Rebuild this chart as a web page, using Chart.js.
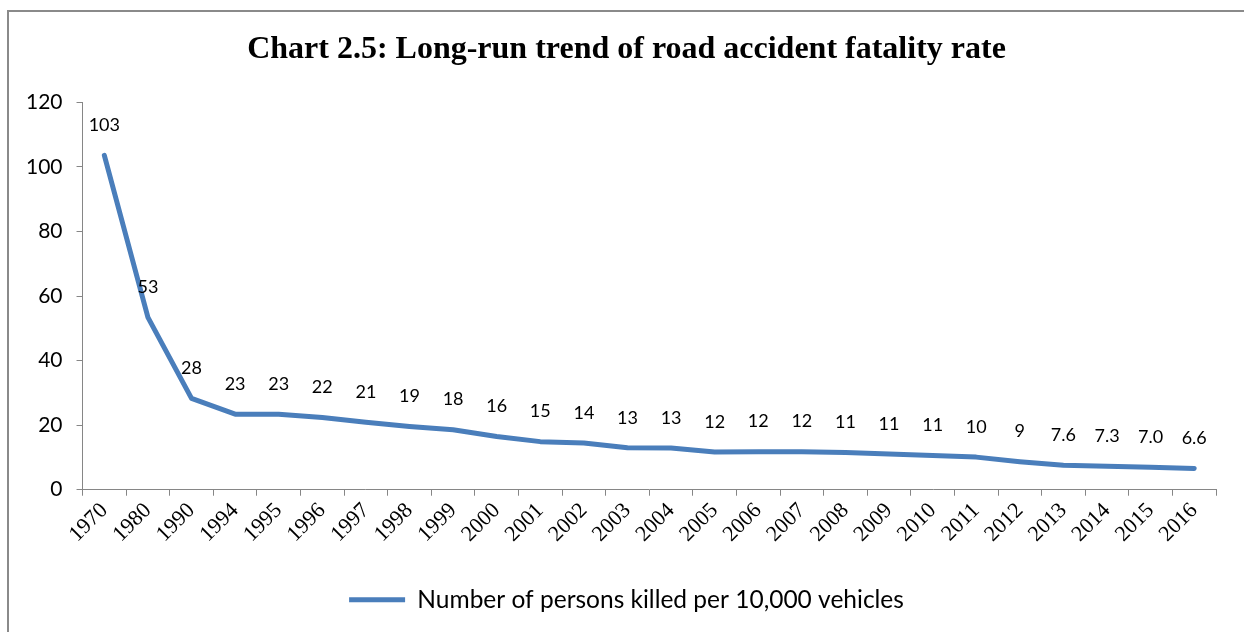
<!DOCTYPE html>
<html>
<head>
<meta charset="utf-8">
<script src="https://cdn.jsdelivr.net/npm/chart.js@4"></script>
<style>
  html, body { margin: 0; padding: 0; background: #fff; overflow: hidden; }
  #frame { position: absolute; left: 7px; top: 10px; width: 1300px; height: 700px; border: 2px solid #8a8a8a; }
  #wrap { position: absolute; left: 0; top: 0; width: 1244px; height: 632px; }
</style>
</head>
<body>
<div id="frame"></div>
<div id="wrap"><canvas id="fatalityChart"></canvas></div>
<script>
const years = ['1970', '1980', '1990', '1994', '1995', '1996', '1997', '1998', '1999', '2000',
  '2001', '2002', '2003', '2004', '2005', '2006', '2007', '2008', '2009', '2010',
  '2011', '2012', '2013', '2014', '2015', '2016']
const killedPer10k = [103.6, 53.4, 28.3, 23.4, 23.4, 22.4, 20.9, 19.6, 18.6, 16.5,
  14.9, 14.5, 13.0, 12.9, 11.7, 11.8, 11.8, 11.5, 11.1, 10.6,
  10.1, 8.7, 7.6, 7.3, 7.0, 6.6]
const pointLabels = ['103', '53', '28', '23', '23', '22', '21', '19', '18', '16',
  '15', '14', '13', '13', '12', '12', '12', '11', '11', '11',
  '10', '9', '7.6', '7.3', '7.0', '6.6']
const yTicks = [0, 20, 40, 60, 80, 100, 120]

const sans = 'Lato'
const serif = 'Liberation Serif'
const axisGray = '#868686'

// Excel style labels sitting above each point
const labelPlugin = {
  id: 'pointValueLabels',
  afterDatasetsDraw(chart) {
    const ctx = chart.ctx
    const meta = chart.getDatasetMeta(0)
    ctx.save()
    ctx.font = '18px ' + sans
    ctx.fillStyle = '#000'
    ctx.textAlign = 'center'
    ctx.textBaseline = 'middle'
    meta.data.forEach((pt, i) => {
      ctx.fillText(pointLabels[i], pt.x, pt.y - 30)
    })
    ctx.restore()
  }
}

const ctx = document.getElementById('fatalityChart').getContext('2d')

const myChart = new Chart(ctx, {
  type: 'line',
  data: {
    labels: years,
    datasets: [{
      label: 'Number of persons killed per 10,000 vehicles',
      data: killedPer10k,
      borderColor: '#4a7ebb',
      backgroundColor: '#4a7ebb',
      borderWidth: 5,
      borderCapStyle: 'round',
      borderJoinStyle: 'round',
      pointRadius: 0,
      pointHoverRadius: 0,
      tension: 0,
      pointStyle: 'line'
    }]
  },
  options: {
    responsive: true,
    maintainAspectRatio: false,
    animation: false,
    layout: { padding: { left: 12, right: 3, top: 0, bottom: 10 } },
    plugins: {
      title: {
        display: true,
        text: 'Chart 2.5: Long-run trend of road accident fatality rate',
        color: '#000',
        font: { family: serif, size: 32, weight: 'bold' },
        padding: { top: 31, bottom: 33 }
      },
      legend: {
        position: 'bottom',
        labels: {
          usePointStyle: true,
          pointStyleWidth: 56,
          color: '#000',
          font: { family: sans, size: 24.5 },
          padding: 10
        }
      },
      tooltip: { enabled: false }
    },
    scales: {
      x: {
        offset: true,
        grid: { display: true, drawOnChartArea: false, offset: true, color: axisGray, tickLength: 6 },
        border: { color: axisGray, width: 1 },
        ticks: {
          color: '#000',
          font: { family: serif, size: 22 },
          minRotation: 45,
          maxRotation: 45,
          autoSkip: false,
          padding: 2
        },
        afterFit(scale) {
          scale.height += 28
        }
      },
      y: {
        min: 0,
        max: 120,
        afterBuildTicks(scale) {
          scale.ticks = yTicks.map(v => ({ value: v }))
        },
        grid: { display: true, drawOnChartArea: false, color: axisGray, tickLength: 6 },
        border: { color: axisGray, width: 1 },
        ticks: {
          color: '#000',
          font: { family: sans, size: 21 },
          padding: 14
        }
      },
      // empty spacer on the right so the title and legend sit centred like the original
      spacer: {
        position: 'right',
        grid: { display: false },
        border: { display: false },
        ticks: { display: false },
        afterFit(scale) {
          scale.width = 25
        }
      }
    }
  },
  plugins: [labelPlugin]
})
</script>
</body>
</html>
